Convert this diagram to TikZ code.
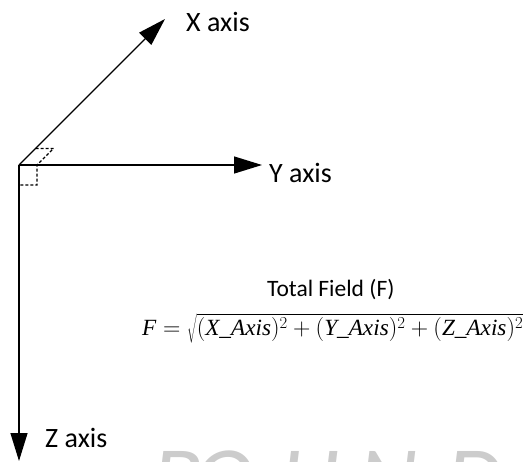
\documentclass[tikz,border=0pt]{standalone}
\usepackage{fontspec}
\setmainfont{Carlito}
\newfontfamily\eqfont{Liberation Serif}
\usetikzlibrary{arrows.meta}
\newcommand{\ev}[1]{\mbox{\eqfont\itshape #1}}
\begin{document}
\begin{tikzpicture}[x=1pt,y=-1pt,
  axis/.style={line width=1.3pt,-{Triangle[length=28pt,width=17pt]}},
  ra/.style={line width=1.2pt,dash pattern=on 3pt off 2pt},
  lbl/.style={inner sep=0pt,anchor=base west,font=\fontsize{28}{30}\selectfont},
  wm/.style={inner sep=0pt,anchor=base west,text=black!20,font=\fontsize{92}{92}\selectfont\itshape}]
\useasboundingbox (0,0) rectangle (524,461);
\begin{scope}
\clip (0,0) rectangle (524,461);
\node[wm] (w1) at (152,510) {B};
\node[wm] (w2) at (194,510) {O};
\node[wm] (w3) at (280,510) {U};
\node[wm] (w4) at (358,510) {N};
\node[wm] (w5) at (446,510) {D};
\end{scope}
\coordinate (O) at (19,165);
\coordinate (Xt) at (165,19);
\coordinate (Yt) at (262,165);
\coordinate (Zt) at (19,461);
\draw[axis] (O) -- (Xt);
\draw[axis] (O) -- (Yt);
\draw[axis] (O) -- (Zt);
\draw[ra] (35.5,148.5) -- (53.5,148.5) -- (37,165) -- (37,185) -- (19,185);
\node[lbl] (xl) at (186,31) {X axis};
\node[lbl] (yl) at (269,182) {Y axis};
\node[lbl] (zl) at (45,447) {Z axis};
\node[inner sep=0pt,anchor=base west,font=\fontsize{23.5}{25}\selectfont] (tf) at (267,296) {Total Field (F)};
\node[inner sep=0pt,anchor=base west] (eq) at (142,335) {\resizebox{381pt}{!}{\fontsize{24}{26}\selectfont$\ev{F}=\sqrt{(\ev{X\_Axis})^2+(\ev{Y\_Axis})^2+(\ev{Z\_Axis})^2}$}};
\end{tikzpicture}
\end{document}
